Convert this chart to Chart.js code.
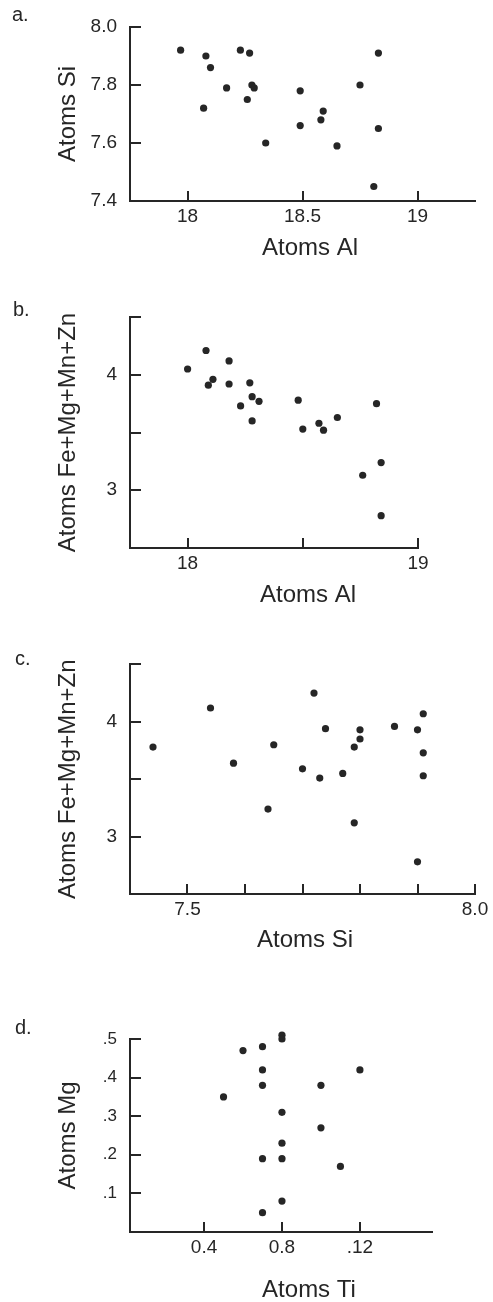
<!DOCTYPE html>
<html>
<head>
<meta charset="utf-8">
<script src="https://cdn.jsdelivr.net/npm/chart.js@4.4.0/dist/chart.umd.min.js"></script>
<style>
  html, body { margin: 0; padding: 0; background: #fff; }
  body { width: 493px; height: 1302px; position: relative; overflow: hidden; }
  .panel { position: absolute; left: 0; width: 493px; }
</style>
</head>
<body>
<div class="panel" style="top:0;height:270px"><canvas id="chartA"></canvas></div>
<div class="panel" style="top:290px;height:320px"><canvas id="chartB"></canvas></div>
<div class="panel" style="top:640px;height:310px"><canvas id="chartC"></canvas></div>
<div class="panel" style="top:1000px;height:302px"><canvas id="chartD"></canvas></div>
<script>
// a. Si against Al
var alA = [17.97, 18.08, 18.10, 18.07, 18.17, 18.23, 18.27, 18.28, 18.29, 18.26, 18.34, 18.49, 18.49, 18.59, 18.58, 18.65, 18.75, 18.83, 18.83, 18.81];
var siA = [7.92, 7.90, 7.86, 7.72, 7.79, 7.92, 7.91, 7.80, 7.79, 7.75, 7.60, 7.78, 7.66, 7.71, 7.68, 7.59, 7.80, 7.91, 7.65, 7.45];
var xTicksA = [18, 18.5, 19];
var xLabelsA = ['18', '18.5', '19'];
var yTicksA = [7.4, 7.6, 7.8, 8.0];
var yLabelsA = ['7.4', '7.6', '7.8', '8.0'];

// b. Fe+Mg+Mn+Zn against Al
var alB = [18.00, 18.08, 18.09, 18.11, 18.18, 18.18, 18.27, 18.23, 18.28, 18.31, 18.28, 18.48, 18.50, 18.57, 18.59, 18.65, 18.82, 18.76, 18.84, 18.84];
var femB = [4.05, 4.21, 3.91, 3.96, 4.12, 3.92, 3.93, 3.73, 3.81, 3.77, 3.60, 3.78, 3.53, 3.58, 3.52, 3.63, 3.75, 3.13, 3.24, 2.78];
var xTicksB = [18, 18.5, 19];
var xLabelsB = ['18', '', '19'];
var yTicksB = [3, 3.5, 4, 4.5];
var yLabelsB = ['3', '', '4', ''];

// c. Fe+Mg+Mn+Zn against Si
var siC = [7.44, 7.54, 7.58, 7.65, 7.64, 7.70, 7.72, 7.73, 7.74, 7.77, 7.80, 7.80, 7.79, 7.79, 7.86, 7.90, 7.91, 7.91, 7.91, 7.90];
var femC = [3.78, 4.12, 3.64, 3.80, 3.24, 3.59, 4.25, 3.51, 3.94, 3.55, 3.93, 3.85, 3.78, 3.12, 3.96, 3.93, 4.07, 3.73, 3.53, 2.78];
var xTicksC = [7.5, 7.6, 7.7, 7.8, 7.9, 8.0];
var xLabelsC = ['7.5', '', '', '', '', '8.0'];
var yTicksC = [3, 3.5, 4, 4.5];
var yLabelsC = ['3', '', '4', ''];

// d. Mg against Ti
var tiD = [0.50, 0.60, 0.70, 0.70, 0.70, 0.70, 0.70, 0.80, 0.80, 0.80, 0.80, 0.80, 0.80, 1.00, 1.00, 1.20, 1.10];
var mgD = [0.35, 0.47, 0.48, 0.42, 0.38, 0.19, 0.05, 0.51, 0.50, 0.31, 0.23, 0.19, 0.08, 0.38, 0.27, 0.42, 0.17];
var xTicksD = [0.4, 0.8, 1.2];
var xLabelsD = ['0.4', '0.8', '.12'];
var yTicksD = [0.1, 0.2, 0.3, 0.4, 0.5];
var yLabelsD = ['.1', '.2', '.3', '.4', '.5'];

var INK = '#262626';
Chart.defaults.font.family = "'Liberation Sans', Arial, sans-serif";
Chart.defaults.color = INK;

// ticks drawn on the inside of the axes, like the printed figure
var inwardTicks = {
    id: 'inwardTicks',
    afterDraw: function(chart, args, o) {
        var ctx = chart.ctx, area = chart.chartArea;
        var sx = chart.scales.x, sy = chart.scales.y;
        ctx.save();
        ctx.strokeStyle = INK;
        ctx.lineWidth = 2;
        sx.ticks.forEach(function(t) {
            var px = Math.round(sx.getPixelForValue(t.value));
            ctx.beginPath();
            ctx.moveTo(px, area.bottom);
            ctx.lineTo(px, area.bottom - 10);
            ctx.stroke();
        });
        sy.ticks.forEach(function(t) {
            var py = Math.round(sy.getPixelForValue(t.value));
            ctx.beginPath();
            ctx.moveTo(area.left, py);
            ctx.lineTo(area.left + 11, py);
            ctx.stroke();
        });
        ctx.restore();
    }
};

// panel letter and x axis title
var panelText = {
    id: 'panelText',
    afterDraw: function(chart, args, o) {
        var ctx = chart.ctx;
        ctx.save();
        ctx.fillStyle = INK;
        ctx.textBaseline = 'middle';
        ctx.font = "20px 'Liberation Sans', Arial, sans-serif";
        ctx.textAlign = 'left';
        ctx.fillText(o.letter, o.letterX, o.letterY);
        ctx.font = "24px 'Liberation Sans', Arial, sans-serif";
        ctx.textAlign = 'center';
        ctx.fillText(o.xTitle, o.titleX, o.titleY);
        ctx.restore();
    }
};

var makeScatter = function(id, xs, ys, p) {
    var pts = xs.map(function(x, i) { return {x: x, y: ys[i]}; });
    return new Chart(document.getElementById(id), {
        type: 'scatter',
        data: {
            datasets: [{
                data: pts,
                pointRadius: 3.6,
                pointBackgroundColor: INK,
                pointBorderWidth: 0,
                clip: false
            }]
        },
        options: {
            responsive: true,
            maintainAspectRatio: false,
            animation: false,
            events: [],
            layout: {padding: {top: p.padTop, right: p.padRight, left: 0, bottom: 0}},
            plugins: {
                legend: {display: false},
                tooltip: {enabled: false},
                panelText: p.text
            },
            scales: {
                x: {
                    type: 'linear',
                    min: p.xMin, max: p.xMax,
                    grid: {display: false, drawTicks: false},
                    border: {display: true, color: INK, width: 2},
                    ticks: {
                        padding: 4,
                        autoSkip: false,
                        maxRotation: 0,
                        font: {size: 19},
                        callback: function(v, i) { return p.xLabels[i]; }
                    },
                    afterBuildTicks: function(scale) {
                        scale.ticks = p.xTicks.map(function(v) { return {value: v}; });
                    },
                    afterFit: function(scale) { scale.height = p.xHeight; }
                },
                y: {
                    type: 'linear',
                    min: p.yMin, max: p.yMax,
                    grid: {display: false, drawTicks: false},
                    border: {display: true, color: INK, width: 2},
                    title: {
                        display: true,
                        text: p.yTitle,
                        font: {size: 24},
                        color: INK,
                        padding: {top: 54, bottom: 0}
                    },
                    ticks: {
                        padding: 13,
                        autoSkip: false,
                        font: {size: p.yFont || 19},
                        callback: function(v, i) { return p.yLabels[i]; }
                    },
                    afterBuildTicks: function(scale) {
                        scale.ticks = p.yTicks.map(function(v) { return {value: v}; });
                    },
                    afterFit: function(scale) { scale.width = 130; }
                }
            }
        },
        plugins: [inwardTicks, panelText]
    });
};

makeScatter('chartA', alA, siA, {
    xMin: 17.75, xMax: 19.25, yMin: 7.4, yMax: 8.0,
    xTicks: xTicksA, xLabels: xLabelsA, yTicks: yTicksA, yLabels: yLabelsA,
    yTitle: 'Atoms Si', padTop: 27, padRight: 18, xHeight: 69,
    text: {letter: 'a.', letterX: 12, letterY: 15, xTitle: 'Atoms Al', titleX: 310, titleY: 248}
});

makeScatter('chartB', alB, femB, {
    xMin: 17.75, xMax: 19, yMin: 2.5, yMax: 4.5,
    xTicks: xTicksB, xLabels: xLabelsB, yTicks: yTicksB, yLabels: yLabelsB,
    yTitle: 'Atoms Fe+Mg+Mn+Zn', padTop: 27, padRight: 75, xHeight: 62,
    text: {letter: 'b.', letterX: 13, letterY: 20, xTitle: 'Atoms Al', titleX: 308, titleY: 305}
});

makeScatter('chartC', siC, femC, {
    xMin: 7.4, xMax: 8.0, yMin: 2.5, yMax: 4.5,
    xTicks: xTicksC, xLabels: xLabelsC, yTicks: yTicksC, yLabels: yLabelsC,
    yTitle: 'Atoms Fe+Mg+Mn+Zn', padTop: 24, padRight: 18, xHeight: 56,
    text: {letter: 'c.', letterX: 15, letterY: 19, xTitle: 'Atoms Si', titleX: 305, titleY: 300}
});

makeScatter('chartD', tiD, mgD, {
    xMin: 0.02, xMax: 1.57, yMin: 0, yMax: 0.5,
    xTicks: xTicksD, xLabels: xLabelsD, yTicks: yTicksD, yLabels: yLabelsD,
    yTitle: 'Atoms Mg', yFont: 17, padTop: 39, padRight: 61, xHeight: 70,
    text: {letter: 'd.', letterX: 15, letterY: 28, xTitle: 'Atoms Ti', titleX: 309, titleY: 290}
});
</script>
</body>
</html>
